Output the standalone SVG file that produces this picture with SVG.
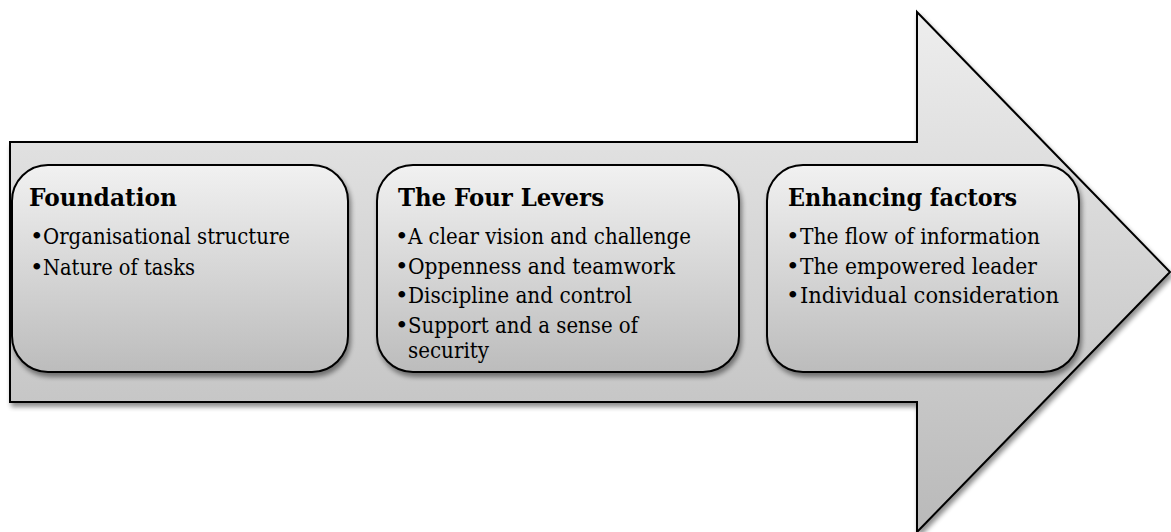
<svg xmlns="http://www.w3.org/2000/svg" width="1171" height="532" viewBox="0 0 1171 532">
  <defs>
    <linearGradient id="gArrow" x1="0" y1="0" x2="0" y2="1">
      <stop offset="0" stop-color="#eeeeee"/>
      <stop offset="1" stop-color="#b9b9b9"/>
    </linearGradient>
    <linearGradient id="gBox" x1="0" y1="0" x2="0" y2="1">
      <stop offset="0" stop-color="#f1f1f1"/>
      <stop offset="1" stop-color="#bcbcbc"/>
    </linearGradient>
    <filter id="shadow" x="-10%" y="-10%" width="130%" height="130%">
      <feGaussianBlur in="SourceAlpha" stdDeviation="2.5"/>
      <feOffset dx="2" dy="4" result="b"/>
      <feComponentTransfer><feFuncA type="linear" slope="0.45"/></feComponentTransfer>
      <feMerge><feMergeNode/><feMergeNode in="SourceGraphic"/></feMerge>
    </filter>
  </defs>
  <style>
    .arrow { fill: url(#gArrow); stroke: #000; stroke-width: 2; stroke-linejoin: miter; }
    .box { fill: url(#gBox); stroke: #000; stroke-width: 2; }
    .title { font-family: "DejaVu Serif", "Liberation Serif", serif; font-weight: bold; font-size: 25px; fill: #000; }
    .item { font-family: "DejaVu Serif", "Liberation Serif", serif; font-size: 21.5px; fill: #000; }
    .bul { font-family: "DejaVu Serif", "Liberation Serif", serif; font-size: 23px; fill: #000; }
  </style>

  <g id="arrow">
    <path class="arrow" filter="url(#shadow)" d="M10,142 L917,142 L917,12 L1170,272 L917,532 L917,402 L10,402 Z"/>
  </g>

  <g id="connectors"></g>

  <g id="node-foundation">
    <rect class="box" filter="url(#shadow)" x="12" y="165" width="336" height="207" rx="36" ry="36"/>
    <text class="title" x="29" y="206" textLength="148" lengthAdjust="spacingAndGlyphs">Foundation</text>
    <text class="bul" x="30" y="244">•</text>
    <text class="item" x="43" y="244" textLength="247" lengthAdjust="spacingAndGlyphs">Organisational structure</text>
    <text class="bul" x="30" y="275">•</text>
    <text class="item" x="43" y="275" textLength="152" lengthAdjust="spacingAndGlyphs">Nature of tasks</text>
  </g>

  <g id="node-four-levers">
    <rect class="box" filter="url(#shadow)" x="377" y="165" width="362" height="207" rx="36" ry="36"/>
    <text class="title" x="398" y="206" textLength="206" lengthAdjust="spacingAndGlyphs">The Four Levers</text>
    <text class="bul" x="395" y="244">•</text>
    <text class="item" x="408" y="244" textLength="283" lengthAdjust="spacingAndGlyphs">A clear vision and challenge</text>
    <text class="bul" x="395" y="274">•</text>
    <text class="item" x="408" y="274" textLength="267" lengthAdjust="spacingAndGlyphs">Oppenness and teamwork</text>
    <text class="bul" x="395" y="303">•</text>
    <text class="item" x="408" y="303" textLength="224" lengthAdjust="spacingAndGlyphs">Discipline and control</text>
    <text class="bul" x="395" y="333">•</text>
    <text class="item" x="408" y="333" textLength="230" lengthAdjust="spacingAndGlyphs">Support and a sense of</text>
    <text class="item" x="408" y="358" textLength="81" lengthAdjust="spacingAndGlyphs">security</text>
  </g>

  <g id="node-enhancing">
    <rect class="box" filter="url(#shadow)" x="767" y="165" width="312" height="207" rx="36" ry="36"/>
    <text class="title" x="788" y="206" textLength="229" lengthAdjust="spacingAndGlyphs">Enhancing factors</text>
    <text class="bul" x="786" y="244">•</text>
    <text class="item" x="800" y="244" textLength="240" lengthAdjust="spacingAndGlyphs">The flow of information</text>
    <text class="bul" x="786" y="274">•</text>
    <text class="item" x="800" y="274" textLength="237" lengthAdjust="spacingAndGlyphs">The empowered leader</text>
    <text class="bul" x="786" y="303">•</text>
    <text class="item" x="800" y="303" textLength="259" lengthAdjust="spacingAndGlyphs">Individual consideration</text>
  </g>
</svg>
